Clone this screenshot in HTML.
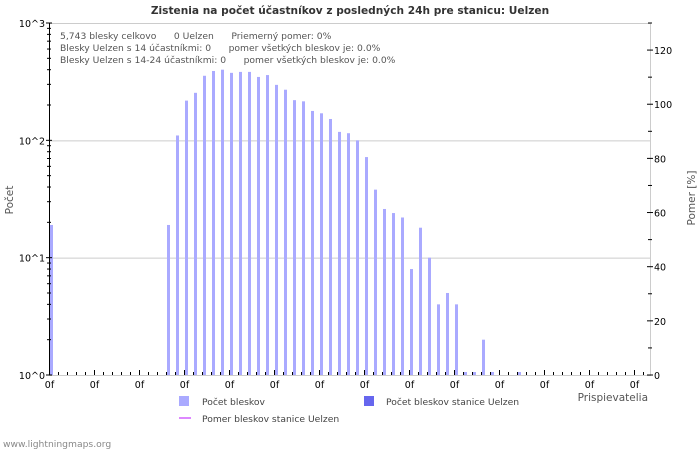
<!DOCTYPE html>
<html><head><meta charset="utf-8"><style>
body{margin:0;background:#fff;}
svg text{font-family:"DejaVu Sans","Liberation Sans",sans-serif;}
</style></head><body>
<svg id="chart" width="700" height="450" xmlns="http://www.w3.org/2000/svg">
<rect width="700" height="450" fill="#fff"/>
<text x="350" y="14" text-anchor="middle" font-size="10.6" font-weight="bold" fill="#333">Zistenia na počet účastníkov z posledných 24h pre stanicu: Uelzen</text>
<g id="grid"></g>
<rect x="49.5" y="23.5" width="601" height="352" fill="none" stroke="#ccc"/>
<g id="bars"></g>
<g id="axes"></g>
<g font-size="9.2" fill="#555">
<text x="60" y="39">5,743 blesky celkovo &#160;&#160;&#160;&#160; 0 Uelzen &#160;&#160;&#160;&#160; Priemerný pomer: 0%</text>
<text x="60" y="51">Blesky Uelzen s 14 účastníkmi: 0 &#160;&#160;&#160;&#160; pomer všetkých bleskov je: 0.0%</text>
<text x="60" y="63">Blesky Uelzen s 14-24 účastníkmi: 0 &#160;&#160;&#160;&#160; pomer všetkých bleskov je: 0.0%</text>
</g>
<text transform="translate(13,200) rotate(-90)" text-anchor="middle" font-size="10.5" fill="#555">Počet</text>
<text transform="translate(695,198) rotate(-90)" text-anchor="middle" font-size="10.5" fill="#555">Pomer [%]</text>
<text x="648" y="401" text-anchor="end" font-size="10.5" fill="#555">Prispievatelia</text>
<g font-size="9.2" fill="#444">
<rect x="179" y="396" width="10" height="10" fill="#aaaaff"/>
<text x="202" y="405">Počet bleskov</text>
<rect x="364" y="396" width="10" height="10" fill="#6666ee"/>
<text x="386" y="405">Počet bleskov stanice Uelzen</text>
<line x1="179" y1="418" x2="191" y2="418" stroke="#dd88ff" stroke-width="2"/>
<text x="202" y="422">Pomer bleskov stanice Uelzen</text>
</g>
<text x="3" y="447" font-size="9.2" fill="#888">www.lightningmaps.org</text>
</svg>
<script>
const counts=[19,0,0,0,0,0,0,0,0,0,0,0,0,19,110,218,254,355,390,400,376,383,383,347,360,297,270,220,215,178,170,152,118,115,100,72,38,26,24,22,8,18,10,4,5,4,1,1,2,1,0,0,1,0,0,0,0,0,0,0,0,0,0,0,0,0,0];
const yTickLabels=["10^0","10^1","10^2","10^3"];
const y2Ticks=[0,20,40,60,80,100,120];
const xTickLabel="0f";
const NS="http://www.w3.org/2000/svg";
const L=49,R=650,T=23,B=375,slot=9;
function xs(i){return L+1+slot*i;}
function ys(v){return B-(B-T)*Math.log10(v)/3;}
function y2s(v){return B-v*(B-T)/130;}
function mk(tag,attrs,parent){const e=document.createElementNS(NS,tag);for(const k in attrs)e.setAttribute(k,attrs[k]);document.getElementById(parent).appendChild(e);return e;}
for(let d=1;d<3;d++){const g=mk('line',{x1:L,x2:R,y1:ys(Math.pow(10,d))+.5,y2:ys(Math.pow(10,d))+.5,stroke:'#ccc'},'grid');

}
counts.forEach((v,i)=>{if(v<=0)return;let y=ys(v);if(B-y<3)y=B-3;
const r=mk('rect',{x:xs(i),y:y,width:3,height:B-y,fill:'#aaaaff'},'bars');

});
mk('line',{x1:L+.5,x2:L+.5,y1:T,y2:B,stroke:'#000'},'axes');
yTickLabels.forEach((s,d)=>{const y=ys(Math.pow(10,d));
const t=mk('text',{x:L-4,y:y+4,'text-anchor':'end','font-size':9.5,fill:'#000'},'axes');t.textContent=s;


mk('line',{x1:L-3,x2:L+3,y1:y,y2:y,stroke:'#000'},'axes');
if(d<3)for(let m=2;m<10;m++){const ym=ys(m*Math.pow(10,d));mk('line',{x1:L-2,x2:L+2,y1:ym,y2:ym,stroke:'#000'},'axes');}});
y2Ticks.forEach(v=>{const y=y2s(v);
mk('line',{x1:R-3,x2:R+3,y1:y,y2:y,stroke:'#000'},'axes');
mk('line',{x1:R-2,x2:R+2,y1:y2s(v+10),y2:y2s(v+10),stroke:'#000'},'axes');
const t=mk('text',{x:R+4,y:y+4,'font-size':9.5,fill:'#000'},'axes');t.textContent=v;

});
for(let i=0;i<counts.length;i++){const x=L+slot*i+.5;const major=i%5===0;
mk('line',{x1:x,x2:x,y1:B,y2:B-(major?5:3),stroke:'#000'},'axes');
if(major){const t=mk('text',{x:x,y:B+13,'text-anchor':'middle','font-size':9.5,fill:'#000'},'axes');t.textContent=xTickLabel;

}}
</script>
</body></html>
